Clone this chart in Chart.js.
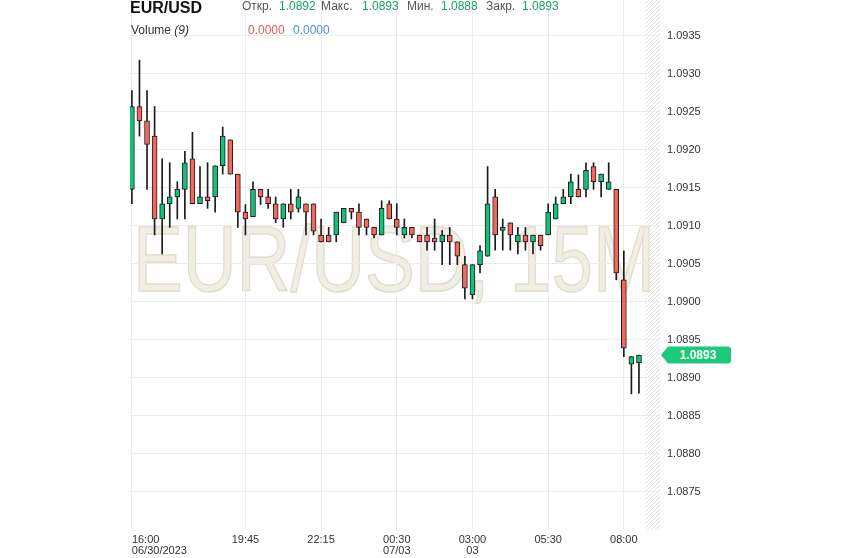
<!DOCTYPE html>
<html>
<head>
<meta charset="utf-8">
<script src="https://cdn.jsdelivr.net/npm/chart.js@4.4.0/dist/chart.umd.min.js"></script>
<style>
    html, body { margin: 0; padding: 0; background: #fff; }
    #wrap { position: relative; width: 844px; height: 558px; font-family: Arial, "Liberation Sans", sans-serif; }
    #chart { position: absolute; left: 0; top: 0; }
    .hd { position: absolute; white-space: nowrap; font-size: 12px; line-height: 12px; color: #555; }
    .sym { font-size: 16px; line-height: 16px; font-weight: bold; color: #111; }
    .num { color: #17a55f; }
    .vol { color: #333; }
    .red { color: #e35b57; }
    .blue { color: #4a8fe3; }
</style>
</head>
<body>
<div id="wrap">
    <canvas id="chart" width="844" height="558"></canvas>
    <span class="hd sym" style="left:130px;top:0px">EUR/USD</span>
    <span class="hd" style="left:242px;top:0px">Откр.</span>
    <span class="hd num" style="left:279px;top:0px">1.0892</span>
    <span class="hd" style="left:321px;top:0px">Макс.</span>
    <span class="hd num" style="left:362px;top:0px">1.0893</span>
    <span class="hd" style="left:407px;top:0px">Мин.</span>
    <span class="hd num" style="left:441px;top:0px">1.0888</span>
    <span class="hd" style="left:486px;top:0px">Закр.</span>
    <span class="hd num" style="left:522px;top:0px">1.0893</span>
    <span class="hd vol" style="left:131px;top:24px">Volume <i>(9)</i></span>
    <span class="hd red" style="left:248px;top:24px">0.0000</span>
    <span class="hd blue" style="left:293px;top:24px">0.0000</span>
</div>
<script>
// 15M candles, 06/30 16:00 -> 07/03 08:30
const open = [
    1.09148, 1.09257, 1.09238, 1.09218, 1.09109, 1.09129, 1.09138, 1.09148, 1.09188, 1.09129,
    1.09138, 1.09138, 1.09179, 1.09213, 1.09168, 1.09118, 1.09112, 1.09148, 1.09138, 1.09129,
    1.09109, 1.09129, 1.09123, 1.09129, 1.09129, 1.09088, 1.09088, 1.09088, 1.09104, 1.09123,
    1.09118, 1.09109, 1.09098, 1.09088, 1.09129, 1.09109, 1.09088, 1.09098, 1.09088, 1.09088,
    1.09084, 1.09079, 1.09088, 1.09079, 1.09049, 1.09009, 1.09049, 1.0906, 1.09138, 1.09094,
    1.09104, 1.09079, 1.09088, 1.09079, 1.09088, 1.09088, 1.09109, 1.09129, 1.09138, 1.09148,
    1.09148, 1.09178, 1.09158, 1.09148, 1.09148, 1.09029, 1.08918, 1.0892,
];
const high = [
    1.09278, 1.09318, 1.09278, 1.09257, 1.09188, 1.09183, 1.09158, 1.09198, 1.09223, 1.09178,
    1.09183, 1.09179, 1.0923, 1.09213, 1.09168, 1.09128, 1.09158, 1.09148, 1.09148, 1.09138,
    1.09129, 1.09148, 1.09148, 1.09129, 1.09129, 1.09109, 1.09098, 1.09118, 1.09123, 1.09123,
    1.09129, 1.09109, 1.09098, 1.09133, 1.09133, 1.09129, 1.09109, 1.09098, 1.09088, 1.09098,
    1.09109, 1.09094, 1.09098, 1.09079, 1.0906, 1.09049, 1.09074, 1.09178, 1.09148, 1.09109,
    1.09104, 1.09098, 1.09098, 1.09088, 1.09088, 1.09129, 1.09138, 1.09148, 1.09168, 1.09167,
    1.09183, 1.09183, 1.09168, 1.09183, 1.09148, 1.09067, 1.08928, 1.0893,
];
const low = [
    1.09129, 1.09218, 1.09148, 1.09088, 1.09063, 1.09098, 1.09109, 1.09109, 1.09129, 1.09129,
    1.09123, 1.09118, 1.09168, 1.09168, 1.09098, 1.09088, 1.09112, 1.09128, 1.09123, 1.09104,
    1.09098, 1.09109, 1.09118, 1.09088, 1.09088, 1.09079, 1.09079, 1.09079, 1.09104, 1.09109,
    1.09088, 1.09088, 1.09084, 1.09088, 1.09109, 1.09088, 1.09084, 1.09084, 1.09079, 1.09068,
    1.09068, 1.09049, 1.09049, 1.09049, 1.09004, 1.09004, 1.09038, 1.0906, 1.09068, 1.09068,
    1.09068, 1.09063, 1.09068, 1.09063, 1.09068, 1.09088, 1.09109, 1.09129, 1.09129, 1.09138,
    1.09138, 1.09148, 1.09138, 1.09148, 1.09029, 1.08928, 1.08879, 1.0888,
];
const close = [
    1.09257, 1.09238, 1.09207, 1.09109, 1.09129, 1.09138, 1.09148, 1.09183, 1.09129, 1.09138,
    1.09133, 1.09179, 1.09218, 1.09168, 1.09118, 1.09109, 1.09148, 1.09138, 1.09129, 1.09109,
    1.09129, 1.09118, 1.09138, 1.09118, 1.09093, 1.09079, 1.09079, 1.09118, 1.09123, 1.09118,
    1.09098, 1.09098, 1.09088, 1.09123, 1.09109, 1.09098, 1.09098, 1.09088, 1.09079, 1.09079,
    1.09079, 1.09088, 1.09079, 1.0906, 1.09018, 1.09049, 1.09067, 1.09129, 1.09088, 1.09098,
    1.09088, 1.09088, 1.09079, 1.09088, 1.09074, 1.09118, 1.09129, 1.09138, 1.09158, 1.09138,
    1.09173, 1.09158, 1.09168, 1.09158, 1.09038, 1.08939, 1.08928, 1.0893,
];

// x axis labels sit on candle indexes
const tickIndex = [0, 15, 25, 35, 45, 55, 65];
const tickTimes = ["16:00", "19:45", "22:15", "00:30", "03:00", "05:30", "08:00"];
const tickDates = ["06/30/2023", "", "", "07/03", "03", "", ""];

const lastPrice = close[close.length - 1];

const green = "#12c17a";
const red = "#f3685e";
const grid = "#ececec";

const wicks = open.map((o, i) => ({ x: i, y: [low[i], high[i]] }));
const bodies = open.map((o, i) => ({ x: i, y: [Math.min(o, close[i]), Math.max(o, close[i])] }));
const bodyColors = open.map((o, i) => (close[i] >= o ? green : red));

// first label is pushed right so it starts at its grid line
function firstLabel(text) {
    const ctx = document.createElement("canvas").getContext("2d");
    ctx.font = "11px Arial, 'Liberation Sans'";
    const w = ctx.measureText(text).width;
    const sp = ctx.measureText(" ").width;
    return " ".repeat(Math.round(w / sp)) + text;
}

const backdrop = {
    id: "backdrop",
    beforeDraw(chart) {
        const { ctx, chartArea, scales } = chart;
        ctx.save();

        // hatched area after last candle
        const hx = scales.x.getPixelForValue(open.length - 0.2);
        ctx.beginPath();
        ctx.rect(hx, 0, chartArea.right - hx, chartArea.bottom);
        ctx.clip();
        ctx.strokeStyle = "#e3e3e3";
        ctx.lineWidth = 1;
        for (let y = -40; y < chartArea.bottom + 40; y += 4) {
            ctx.beginPath();
            ctx.moveTo(hx, y + 20);
            ctx.lineTo(hx + 20, y);
            ctx.stroke();
        }
        ctx.restore();

        // watermark
        ctx.save();
        ctx.font = "92px Arial, 'Liberation Sans'";
        ctx.textBaseline = "alphabetic";
        ctx.fillStyle = "#f1eee5";
        ctx.strokeStyle = "#e2dccc";
        ctx.lineWidth = 1.5;
        ctx.fillText("EUR/USD, 15M", 133, 291, 522);
        ctx.strokeText("EUR/USD, 15M", 133, 291, 522);
        ctx.restore();
    },
    afterDraw(chart) {
        const { ctx, chartArea, scales } = chart;
        const y = scales.y.getPixelForValue(lastPrice);
        const x0 = chartArea.right + 1;
        ctx.save();
        ctx.fillStyle = "#1fc97b";
        ctx.beginPath();
        ctx.moveTo(x0, y);
        ctx.lineTo(x0 + 7, y - 8.5);
        ctx.lineTo(x0 + 68, y - 8.5);
        ctx.lineTo(x0 + 70, y - 6.5);
        ctx.lineTo(x0 + 70, y + 6.5);
        ctx.lineTo(x0 + 68, y + 8.5);
        ctx.lineTo(x0 + 7, y + 8.5);
        ctx.closePath();
        ctx.fill();
        ctx.fillStyle = "#fff";
        ctx.font = "bold 12px Arial, 'Liberation Sans'";
        ctx.textAlign = "center";
        ctx.textBaseline = "middle";
        ctx.fillText(lastPrice.toFixed(4), x0 + 37, y + 0.5);
        ctx.restore();
    },
};

new Chart(document.getElementById("chart"), {
    type: "bar",
    data: {
        datasets: [
            {
                data: wicks,
                backgroundColor: "#1b1b1b",
                barThickness: 1,
                grouped: false,
                order: 2,
            },
            {
                data: bodies,
                backgroundColor: bodyColors,
                borderColor: "#1b1b1b",
                borderWidth: 1,
                borderSkipped: false,
                barThickness: 5,
                grouped: false,
                order: 1,
            },
        ],
    },
    options: {
        responsive: false,
        animation: false,
        layout: { padding: { left: 130, top: 0, right: 0, bottom: 0 } },
        plugins: { legend: { display: false }, tooltip: { enabled: false } },
        scales: {
            x: {
                type: "linear",
                min: -0.25,
                max: 69.78,
                offset: false,
                grid: { offset: false, color: grid, drawTicks: false },
                border: { display: false },
                afterBuildTicks: (scale) => {
                    scale.ticks = tickIndex.map((v) => ({ value: v }));
                },
                afterFit: (scale) => {
                    scale.height = 28;
                },
                ticks: {
                    autoSkip: false,
                    maxRotation: 0,
                    padding: 4,
                    color: "#333",
                    font: { family: "Arial, 'Liberation Sans'", size: 11, lineHeight: 1 },
                    callback: (v, i) => {
                        const lines = [tickTimes[i]];
                        if (tickDates[i]) lines.push(tickDates[i]);
                        if (i === 0) return lines.map(firstLabel);
                        return lines;
                    },
                },
            },
            y: {
                position: "right",
                min: 1.087,
                max: 1.09397,
                grid: {
                    color: (c) => (c.tick && c.tick.value < 1.0873 ? "transparent" : grid),
                    drawTicks: false,
                },
                border: { display: false },
                afterBuildTicks: (scale) => {
                    scale.ticks = scale.ticks.filter((t) => t.value > 1.0873 && t.value < 1.0937);
                },
                afterFit: (scale) => {
                    scale.width = 184;
                    scale.paddingTop = 0;
                    scale.paddingBottom = 0;
                },
                ticks: {
                    stepSize: 0.0005,
                    padding: 7,
                    color: "#333",
                    font: { family: "Arial, 'Liberation Sans'", size: 11 },
                    callback: (v) => v.toFixed(4),
                },
            },
        },
    },
    plugins: [backdrop],
});
</script>
</body>
</html>
